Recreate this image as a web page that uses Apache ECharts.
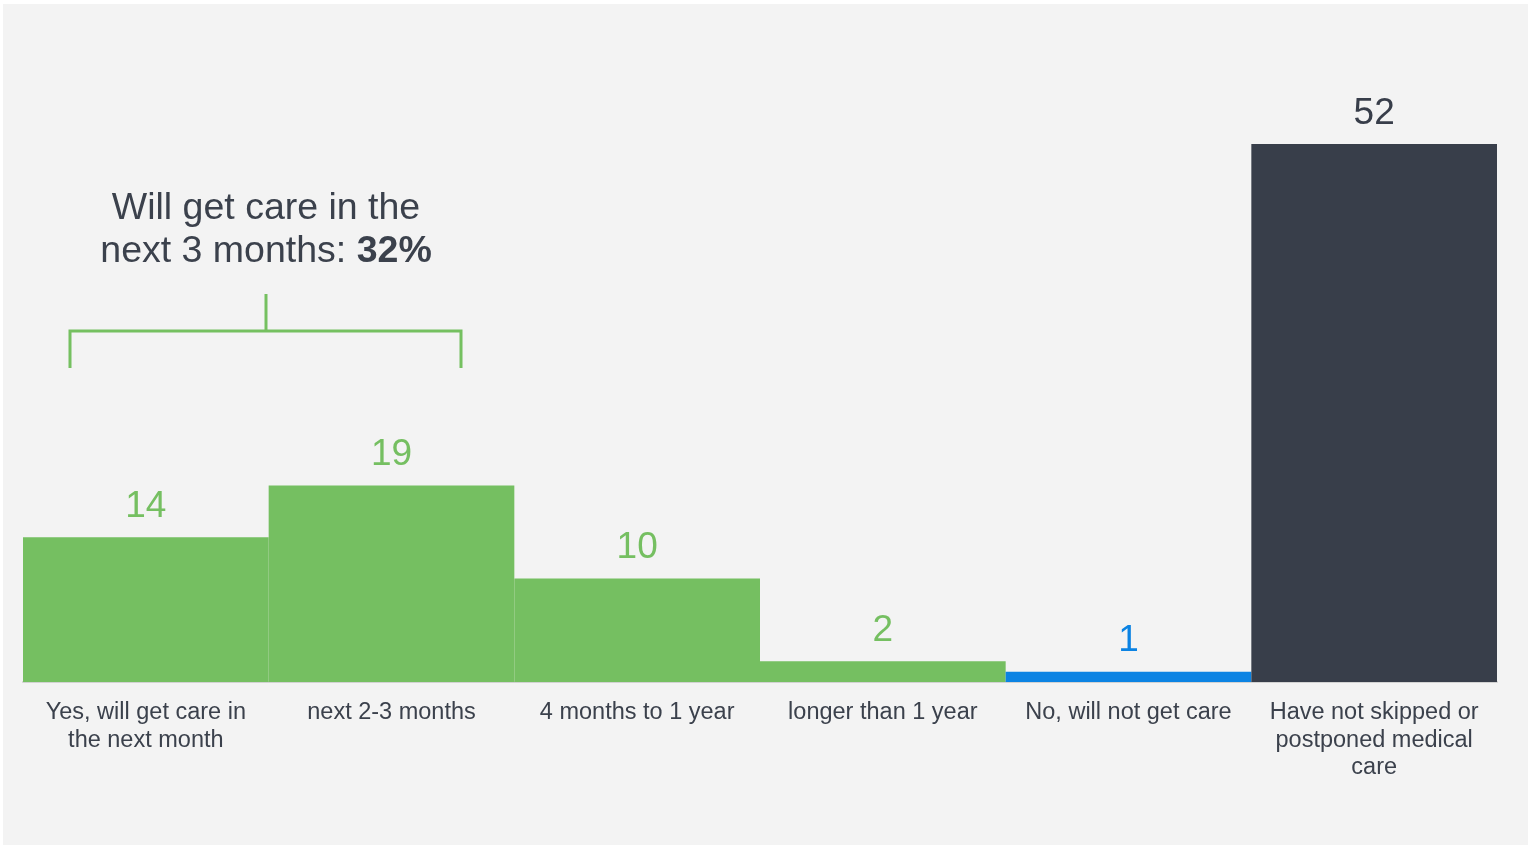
<!DOCTYPE html>
<html>
<head>
<meta charset="utf-8">
<script src="https://cdn.jsdelivr.net/npm/echarts@6/dist/echarts.min.js"></script>
<style>
  html, body { margin: 0; padding: 0; background: #ffffff; }
  #panel { position: absolute; left: 3px; top: 4px; width: 1525px; height: 841px; background: #f3f3f3; }
  #chart { position: absolute; left: 0; top: 0; width: 1534px; height: 847px; }
</style>
</head>
<body>
<div id="panel"></div>
<div id="chart"></div>
<script>
const categories = [
  'Yes, will get care in\nthe next month',
  'next 2-3 months',
  '4 months to 1 year',
  'longer than 1 year',
  'No, will not get care',
  'Have not skipped or\npostponed medical\ncare'
]
const values = [14, 19, 10, 2, 1, 52]
const barColors = ['#75bf61', '#75bf61', '#75bf61', '#75bf61', '#0b83e3', '#383e4a']
const labelColors = ['#75bf61', '#75bf61', '#75bf61', '#75bf61', '#0b83e3', '#383e4a']

const green = '#75c060'
const font = '"Liberation Sans", Arial, sans-serif'

const myChart = echarts.init(document.getElementById('chart'))
const option = {
  backgroundColor: 'transparent',
  animation: false,
  grid: {
    left: 23,
    right: 37,
    top: 144,
    bottom: 165
  },
  xAxis: {
    type: 'category',
    data: categories,
    axisLine: { show: true, lineStyle: { color: '#d2d2d2', width: 2 } },
    axisTick: { show: false },
    axisLabel: {
      interval: 0,
      color: '#3b414c',
      fontFamily: font,
      fontSize: 23.5,
      lineHeight: 27.5,
      margin: 17
    }
  },
  yAxis: {
    type: 'value',
    min: 0,
    max: 52,
    show: false,
    splitLine: { show: false }
  },
  series: [{
    type: 'bar',
    barCategoryGap: 0,
    data: values.map((v, i) => ({
      value: v,
      itemStyle: { color: barColors[i] },
      label: { color: labelColors[i] }
    })),
    label: {
      show: true,
      position: 'top',
      distance: 12,
      fontFamily: font,
      fontSize: 37
    }
  }],
  graphic: [
    {
      type: 'text',
      x: 266,
      y: 187,
      style: {
        text: 'Will get care in the\nnext 3 months: {b|32%}',
        align: 'center',
        fill: '#3b414c',
        fontFamily: font,
        fontSize: 37.5,
        lineHeight: 43,
        rich: {
          b: { fontWeight: 'bold', fontSize: 37.5, fill: '#3b414c', fontFamily: font }
        }
      }
    },
    {
      type: 'polyline',
      shape: { points: [[70, 368], [70, 331], [461, 331], [461, 368]] },
      style: { stroke: green, lineWidth: 3, fill: null }
    },
    {
      type: 'line',
      shape: { x1: 266, y1: 294, x2: 266, y2: 331 },
      style: { stroke: green, lineWidth: 3 }
    }
  ]
}
myChart.setOption(option)
window.addEventListener('resize', () => {
  myChart.resize()
})
</script>
</body>
</html>
